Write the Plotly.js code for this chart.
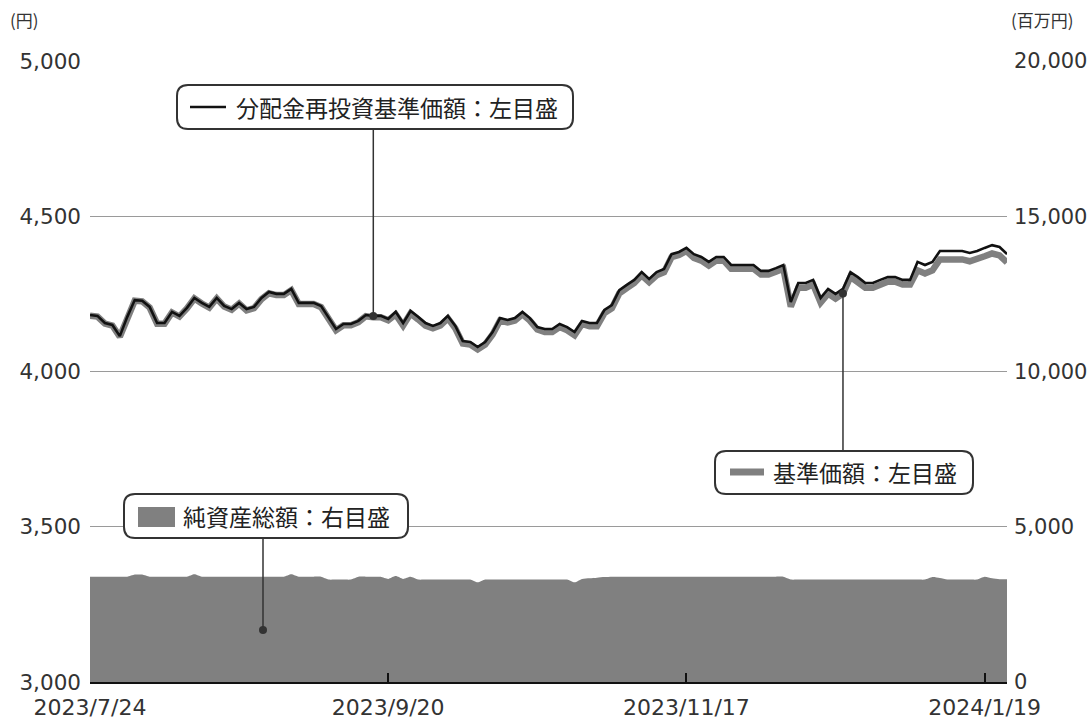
<!DOCTYPE html>
<html><head><meta charset="utf-8">
<script src="https://cdn.plot.ly/plotly-3.0.1.min.js"></script>
<style>html,body{margin:0;padding:0;background:#fff}#chart{width:1091px;height:722px}</style>
</head><body><div id="chart"></div><script>
// ---- data ----
const dates = [
'2023/7/24','2023/7/25','2023/7/26','2023/7/27','2023/7/28','2023/7/31',
'2023/8/1','2023/8/2','2023/8/3','2023/8/4','2023/8/7','2023/8/8','2023/8/9','2023/8/10','2023/8/14','2023/8/15','2023/8/16','2023/8/17','2023/8/18','2023/8/21','2023/8/22','2023/8/23','2023/8/24','2023/8/25','2023/8/28','2023/8/29','2023/8/30','2023/8/31',
'2023/9/1','2023/9/4','2023/9/5','2023/9/6','2023/9/7','2023/9/8','2023/9/11','2023/9/12','2023/9/13','2023/9/14','2023/9/15','2023/9/19','2023/9/20',
'2023/9/21','2023/9/22','2023/9/25','2023/9/26','2023/9/27','2023/9/28','2023/9/29',
'2023/10/2','2023/10/3','2023/10/4','2023/10/5','2023/10/6','2023/10/10','2023/10/11','2023/10/12','2023/10/13','2023/10/16','2023/10/17','2023/10/18','2023/10/19','2023/10/20','2023/10/23','2023/10/24','2023/10/25','2023/10/26','2023/10/27','2023/10/30','2023/10/31',
'2023/11/1','2023/11/2','2023/11/6','2023/11/7','2023/11/8','2023/11/9','2023/11/10','2023/11/13','2023/11/14','2023/11/15','2023/11/16','2023/11/17',
'2023/11/20','2023/11/21','2023/11/22','2023/11/24','2023/11/27','2023/11/28','2023/11/29','2023/11/30',
'2023/12/1','2023/12/4','2023/12/5','2023/12/6','2023/12/7','2023/12/8','2023/12/11','2023/12/12','2023/12/13','2023/12/14','2023/12/15','2023/12/18','2023/12/19','2023/12/20','2023/12/21','2023/12/22','2023/12/25','2023/12/26','2023/12/27','2023/12/28','2023/12/29',
'2024/1/4','2024/1/5','2024/1/9','2024/1/10','2024/1/11','2024/1/12','2024/1/15','2024/1/16','2024/1/17','2024/1/18','2024/1/19',
'2024/1/22','2024/1/23','2024/1/24'];

// 分配金再投資基準価額 (円)
const reinvestNav = [
4182,4179,4156,4150,4114,4176,4230,4228,4208,4156,
4156,4192,4179,4205,4237,4221,4208,4237,4211,4201,
4221,4201,4208,4237,4256,4250,4250,4266,4221,4221,
4221,4211,4172,4137,4153,4153,4163,4182,4179,4179,
4169,4192,4156,4195,4176,4156,4147,4156,4179,4147,
4098,4095,4079,4095,4127,4172,4166,4172,4192,4172,
4143,4137,4137,4153,4143,4127,4163,4156,4156,4198,
4214,4262,4279,4295,4320,4298,4320,4330,4378,4385,
4398,4378,4369,4353,4369,4369,4343,4343,4343,4343,
4324,4324,4333,4343,4224,4285,4285,4295,4237,4266,
4250,4266,4320,4304,4285,4285,4295,4304,4304,4295,
4295,4353,4343,4353,4388,4388,4388,4388,4382,4388,
4398,4407,4401,4378];

// 基準価額 (円)
const nav = [
4180,4177,4154,4148,4112,4174,4228,4226,4206,4154,
4154,4190,4177,4203,4235,4219,4206,4235,4209,4199,
4219,4197,4204,4233,4252,4246,4246,4262,4217,4217,
4217,4207,4168,4133,4149,4149,4159,4178,4175,4175,
4165,4184,4148,4187,4168,4148,4139,4148,4171,4139,
4090,4087,4071,4087,4119,4164,4158,4164,4184,4164,
4135,4127,4127,4143,4133,4117,4153,4146,4146,4188,
4204,4252,4269,4285,4310,4288,4310,4320,4368,4375,
4388,4366,4357,4341,4357,4357,4331,4331,4331,4331,
4312,4312,4321,4331,4209,4270,4270,4280,4222,4251,
4235,4251,4305,4289,4270,4270,4280,4289,4289,4280,
4280,4326,4316,4326,4361,4361,4361,4361,4355,4361,
4371,4380,4374,4351];

// 純資産総額 (百万円)
const netAssets = [
3390,3390,3390,3390,3390,3390,3460,3460,3390,3390,
3390,3390,3390,3390,3470,3390,3390,3390,3390,3390,
3390,3390,3390,3390,3390,3390,3390,3470,3390,3390,
3390,3390,3300,3300,3300,3300,3390,3390,3390,3390,
3320,3410,3320,3390,3300,3300,3300,3300,3300,3300,
3300,3300,3210,3300,3300,3300,3300,3300,3300,3300,
3300,3300,3300,3300,3300,3210,3320,3340,3360,3380,
3390,3390,3390,3390,3390,3390,3390,3390,3390,3390,
3390,3390,3390,3390,3390,3390,3390,3390,3390,3390,
3390,3390,3390,3390,3300,3300,3300,3300,3300,3300,
3300,3300,3300,3300,3300,3300,3300,3300,3300,3300,
3300,3300,3300,3380,3350,3300,3300,3300,3300,3300,
3390,3340,3310,3310];

const leftTicks = [3000,3500,4000,4500,5000];
const rightTicks = [0,5000,10000,15000,20000];
const xTickVals = ['2023/7/24','2023/9/20','2023/11/17','2024/1/19'];
const labelReinvest = '分配金再投資基準価額：左目盛';
const labelNav = '基準価額：左目盛';
const labelAssets = '純資産総額：右目盛';

// ---- layout helpers (pixel -> paper) ----
const L0=90, R0=1007, T0=61, B0=682;
const px = x => (x-L0)/(R0-L0);
const py = y => (B0-y)/(B0-T0);
const yLeftAt = y => 3000 + py(y)*2000;
function roundRect(x0,y0,x1,y1,r){
  return `M${px(x0+r)},${py(y0)} L${px(x1-r)},${py(y0)} Q${px(x1)},${py(y0)} ${px(x1)},${py(y0+r)} `+
         `L${px(x1)},${py(y1-r)} Q${px(x1)},${py(y1)} ${px(x1-r)},${py(y1)} `+
         `L${px(x0+r)},${py(y1)} Q${px(x0)},${py(y1)} ${px(x0)},${py(y1-r)} `+
         `L${px(x0)},${py(y0+r)} Q${px(x0)},${py(y0)} ${px(x0+r)},${py(y0)} Z`;
}
const FONT = '"Noto Sans CJK JP", "Noto Sans", sans-serif';
const NUMFONT = '"DejaVu Sans", "Noto Sans CJK JP", sans-serif';
const iReinvestPt = 38, iNavPt = 101;

const traces = [
  {x: dates, y: netAssets, yaxis: 'y2', type: 'scatter', mode: 'lines',
   fill: 'tozeroy', fillcolor: '#808080', line: {width: 0, shape: 'spline', smoothing: 0.6, color: '#808080'},
   hoverinfo: 'skip'},
  {x: dates, y: nav, type: 'scatter', mode: 'lines', line: {color: '#808080', width: 6.5}},
  {x: dates, y: reinvestNav, type: 'scatter', mode: 'lines', line: {color: '#111111', width: 2.6}},
];

const shapes = [
  // box 1
  {type:'line', xref:'x', yref:'y', x0:iReinvestPt, x1:iReinvestPt, y0:reinvestNav[iReinvestPt], y1:yLeftAt(129), line:{color:'#333', width:1.5}},
  {type:'path', xref:'paper', yref:'paper', path: roundRect(177,85,573,129,11), line:{color:'#333', width:2}, fillcolor:'#fff'},
  {type:'line', xref:'paper', yref:'paper', x0:px(190), x1:px(226), y0:py(107), y1:py(107), line:{color:'#111', width:2.6}},
  // box 2
  {type:'line', xref:'x', yref:'y', x0:iNavPt, x1:iNavPt, y0:nav[iNavPt], y1:yLeftAt(451), line:{color:'#333', width:1.5}},
  {type:'path', xref:'paper', yref:'paper', path: roundRect(715,451,973,494,11), line:{color:'#333', width:2}, fillcolor:'#fff'},
  {type:'line', xref:'paper', yref:'paper', x0:px(730), x1:px(764), y0:py(472), y1:py(472), line:{color:'#808080', width:7}},
  // box 3
  {type:'line', xref:'paper', yref:'paper', x0:px(263), x1:px(263), y0:py(538), y1:py(630), line:{color:'#333', width:1.5}},
  {type:'circle', xref:'paper', yref:'paper', x0:px(259), x1:px(267), y0:py(626), y1:py(634), line:{width:0}, fillcolor:'#333'},
  {type:'path', xref:'paper', yref:'paper', path: roundRect(124,494,408,538,11), line:{color:'#333', width:2}, fillcolor:'#fff'},
  {type:'rect', xref:'paper', yref:'paper', x0:px(138), x1:px(175), y0:py(507), y1:py(527), line:{width:0}, fillcolor:'#808080'},
];

traces.push({x:[dates[iReinvestPt], dates[iNavPt]], y:[reinvestNav[iReinvestPt], nav[iNavPt]], type:'scatter', mode:'markers',
  marker:{color:'#333', size:8}, hoverinfo:'skip'});

const annotations = [
  {xref:'paper', yref:'paper', x:px(234), y:py(107), xanchor:'left', yanchor:'middle', text:labelReinvest, showarrow:false, font:{size:23, color:'#222', family:FONT}},
  {xref:'paper', yref:'paper', x:px(771), y:py(472), xanchor:'left', yanchor:'middle', text:labelNav, showarrow:false, font:{size:23, color:'#222', family:FONT}},
  {xref:'paper', yref:'paper', x:px(181), y:py(516), xanchor:'left', yanchor:'middle', text:labelAssets, showarrow:false, font:{size:23, color:'#222', family:FONT}},
  {xref:'paper', yref:'paper', x:px(8), y:py(20), xanchor:'left', yanchor:'middle', text:'(円)', showarrow:false, font:{size:17, color:'#333', family:FONT}},
  {xref:'paper', yref:'paper', x:px(1009), y:py(20), xanchor:'left', yanchor:'middle', text:'(百万円)', showarrow:false, font:{size:17, color:'#333', family:FONT}},
];

const layout = {
  width:1091, height:722,
  margin:{l:90, r:84, t:61, b:40},
  paper_bgcolor:'#fff', plot_bgcolor:'#fff',
  showlegend:false,
  font:{family:NUMFONT, color:'#333', size:20},
  xaxis:{type:'category', range:[0, dates.length-1], tickmode:'array', tickvals:xTickVals, ticktext:xTickVals,
    ticks:'inside', ticklen:9, tickwidth:2, tickcolor:'#111', showline:true, linecolor:'#111', linewidth:2,
    showgrid:false, zeroline:false, tickfont:{size:22, color:'#333', family:NUMFONT}, ticklabelstandoff:5},
  yaxis:{range:[3000,5000], tickmode:'array', tickvals:leftTicks, tickformat:',d', showgrid:true, gridcolor:'#9a9a9a', gridwidth:1,
    zeroline:false, showline:false, ticks:'', ticklabelstandoff:8, tickfont:{size:21.5, color:'#333', family:NUMFONT}},
  yaxis2:{range:[0,20000], overlaying:'y', side:'right', tickmode:'array', tickvals:rightTicks, tickformat:',d', showgrid:false,
    zeroline:false, showline:false, ticks:'', ticklabelstandoff:6, tickfont:{size:21, color:'#333', family:NUMFONT}},
  shapes, annotations,
};
Plotly.newPlot('chart', traces, layout, {staticPlot:true});
</script></body></html>
